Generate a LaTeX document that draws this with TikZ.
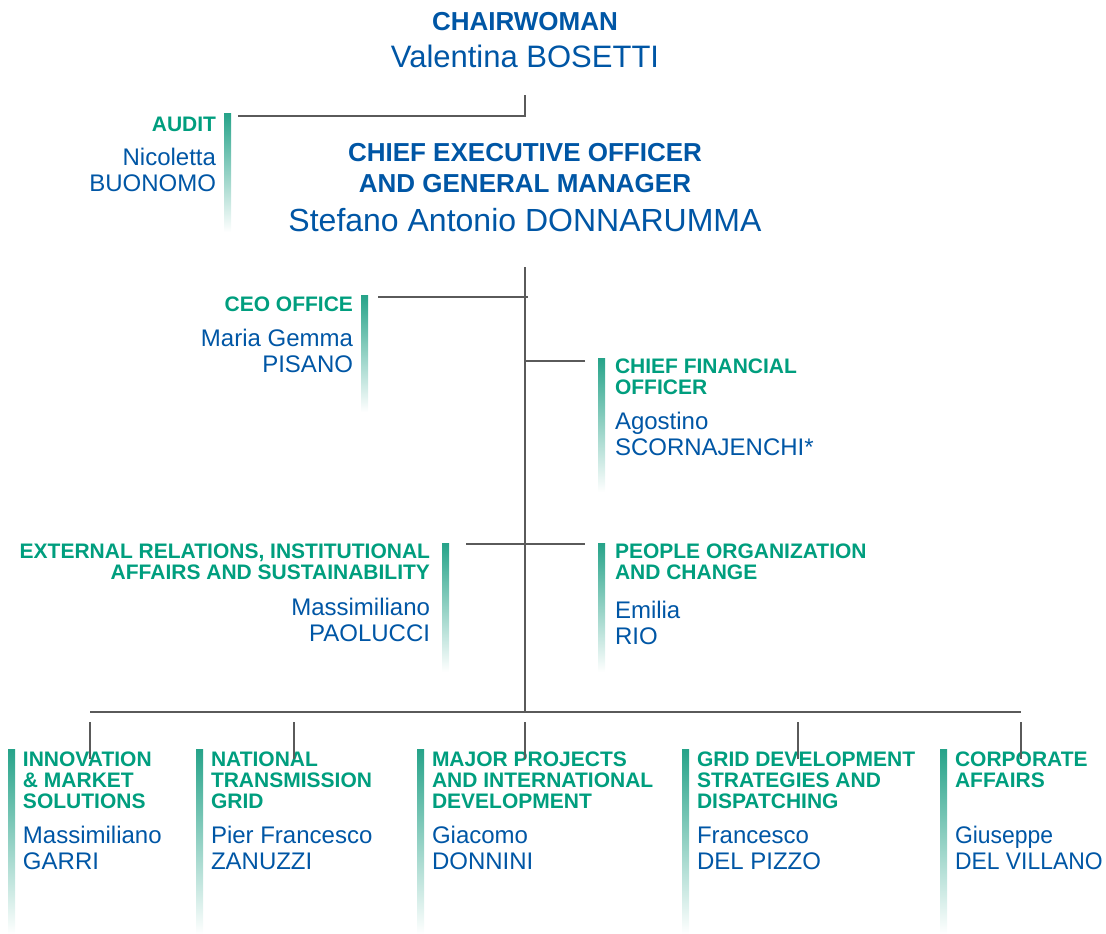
\documentclass[tikz,border=0pt]{standalone}
\usepackage{graphicx}
\usepackage{fontspec}
\setmainfont{Liberation Sans}
\definecolor{orgblue}{RGB}{0,86,165}
\definecolor{orggreen}{RGB}{0,158,126}
\definecolor{bargreen}{RGB}{38,163,137}
\definecolor{linkgray}{RGB}{90,90,90}
% a block of lines, its baseline on the first line
\newcommand\blocklines[2]{\begin{tabular}[t]{@{}#1@{}}#2\end{tabular}}
% slightly narrowed text for the rightmost unit
\newcommand\narrowtext[1]{\scalebox{0.955}[1]{#1}}
\begin{document}
\begin{tikzpicture}[x=1pt,y=-1pt,
  txt/.style={inner sep=0pt,outer sep=0pt},
  unithead/.style={txt,text=orggreen,font=\fontsize{21}{21}\bfseries\selectfont},
  unitname/.style={txt,text=orgblue,font=\fontsize{24}{26.5}\selectfont},
  bigtitle/.style={txt,text=orgblue,font=\fontsize{26}{31}\bfseries\selectfont},
  bigname/.style={txt,text=orgblue,font=\fontsize{32}{32}\selectfont},
  gbar/.style={inner sep=0pt,outer sep=0pt,minimum width=7pt,draw=none,
    shading=axis,top color=bargreen,bottom color=white},
  link/.style={draw=linkgray,line width=1.2pt}]
\useasboundingbox (0,0) rectangle (1106,934);

% --- chairwoman
\node[bigtitle,anchor=base] (chairT) at (525,31) {CHAIRWOMAN};
\node[txt,text=orgblue,font=\fontsize{31}{31}\selectfont,anchor=base] (chairN) at (525,67) {Valentina BOSETTI};

% --- audit
\node[gbar,minimum height=119pt,anchor=north west] (audB) at (224,113) {};
\node[unithead,anchor=base east] (audH) at (216,131) {\blocklines{r}{AUDIT}};
\node[unitname,anchor=base east] (audN) at (216,165) {\blocklines{r}{Nicoletta\\BUONOMO}};

% --- chief executive officer
\node[bigtitle,anchor=base] (ceoT) at (525,161) {\blocklines{c}{CHIEF EXECUTIVE OFFICER\\AND GENERAL MANAGER}};
\node[bigname,anchor=base] (ceoN) at (525,231) {Stefano Antonio DONNARUMMA};

% --- staff units
\node[gbar,minimum height=117pt,anchor=north west] (offB) at (361,295) {};
\node[unithead,anchor=base east] (offH) at (353,311) {\blocklines{r}{CEO OFFICE}};
\node[unitname,anchor=base east] (offN) at (353,346) {\blocklines{r}{Maria Gemma\\PISANO}};

\node[gbar,minimum height=134pt,anchor=north west] (cfoB) at (598,358) {};
\node[unithead,anchor=base west] (cfoH) at (615,373) {\blocklines{l}{CHIEF FINANCIAL\\OFFICER}};
\node[unitname,anchor=base west] (cfoN) at (615,429) {\blocklines{l}{Agostino\\SCORNAJENCHI*}};

\node[gbar,minimum height=129pt,anchor=north west] (extB) at (442,543) {};
\node[unithead,anchor=base east] (extH) at (430,558) {\blocklines{r}{EXTERNAL RELATIONS, INSTITUTIONAL\\AFFAIRS AND SUSTAINABILITY}};
\node[unitname,anchor=base east] (extN) at (430,615) {\blocklines{r}{Massimiliano\\PAOLUCCI}};

\node[gbar,minimum height=129pt,anchor=north west] (pplB) at (598,543) {};
\node[unithead,anchor=base west] (pplH) at (615,558) {\blocklines{l}{PEOPLE ORGANIZATION\\AND CHANGE}};
\node[unitname,anchor=base west] (pplN) at (615,618) {\blocklines{l}{Emilia\\RIO}};

% --- business units
\foreach \nm/\bx/\head/\who in {
  inn/8/{INNOVATION\\\& MARKET\\SOLUTIONS}/{Massimiliano\\GARRI},
  ntg/196/{NATIONAL\\TRANSMISSION\\GRID}/{Pier Francesco\\ZANUZZI},
  maj/417/{MAJOR PROJECTS\\AND INTERNATIONAL\\DEVELOPMENT}/{Giacomo\\DONNINI},
  gds/682/{GRID DEVELOPMENT\\STRATEGIES AND\\DISPATCHING}/{Francesco\\DEL PIZZO},
  cor/940/{CORPORATE\\AFFAIRS}/{\narrowtext{Giuseppe}\\\narrowtext{DEL VILLANO}}}{
  \node[gbar,minimum height=185pt,anchor=north west] (\nm B) at (\bx,749) {};
  \node[unithead,anchor=base west] (\nm H) at (\bx+15,766) {\blocklines{l}{\head}};
  \node[unitname,anchor=base west] (\nm N) at (\bx+15,843) {\blocklines{l}{\who}};
}

% --- junctions of the connectors
\coordinate (chairJ) at (525,95);
\coordinate (audJ) at (238,116);
\coordinate (ceoJ) at (525,267);
\coordinate (offJ) at (378,297);
\coordinate (offE) at (528,297);
\coordinate (cfoJ) at (585,361);
\coordinate (extJ) at (466,544);
\coordinate (pplJ) at (585,544);
\coordinate (busJ) at (525,712);

% --- connectors
\draw[link] (chairJ) |- (audJ);
\draw[link] (ceoJ) -- (busJ);
\draw[link] (offJ) -- (offE);
\draw[link] (cfoJ) -- (ceoJ |- cfoJ);
\draw[link] (extJ) -- (pplJ);
\draw[link] ([xshift=82pt]innB.north west |- busJ) -- ([xshift=1013pt]innB.north west |- busJ);
\foreach \nm/\dx in {inn/82,ntg/98,maj/108,gds/116,cor/81}{
  \draw[link] ([xshift=\dx pt,yshift=-10pt]\nm B.north west |- busJ) -- ([xshift=\dx pt,yshift=-10pt]\nm B.north west);
}
\end{tikzpicture}
\end{document}
